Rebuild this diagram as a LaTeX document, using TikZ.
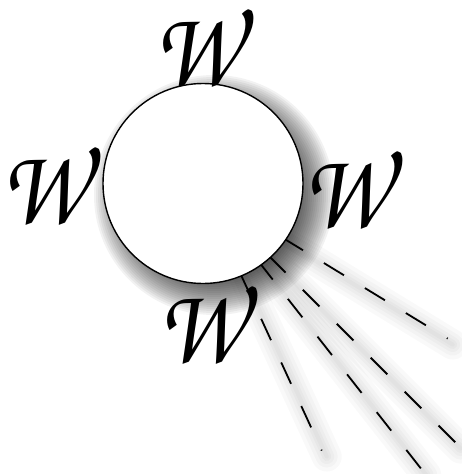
\documentclass[tikz,border=0pt]{standalone}
\usepackage{graphicx}
\usetikzlibrary{calc}
\newcommand\wfont{\fontencoding{OT1}\fontfamily{pzc}\fontseries{m}\fontshape{it}\fontsize{100}{100}\selectfont}
\newcommand\wglyph{\scalebox{0.97}[1.12]{W}}
\begin{document}
\begin{tikzpicture}[x=1pt,y=-1pt,
  dashline/.style={line width=1.8pt, dash pattern=on 23.5pt off 24.5pt},
  bandshadow/.style={black, opacity=0.022, line cap=round},
  ring/.style={draw, line width=1.4pt, fill=white},
  wlabel/.style={inner sep=0pt, font=\wfont}]
\useasboundingbox (0,0) rectangle (461,474);
\coordinate (C) at (203,183.5);
\coordinate (S) at (214,195);
\coordinate (O) at (201,188);
\coordinate (O3) at (199,185.5);
\coordinate (E1) at ($(O)+(31.4:289)$);
\coordinate (E2) at ($(O)+(45:360)$);
\coordinate (E3) at ($(O3)+(51.9:360)$);
\coordinate (E4) at ($(O)+(65.3:289)$);
% soft shadows of the dashed lines
\foreach \e/\o in {E1/O,E2/O,E3/O3,E4/O}{
  \foreach \w in {30,22,15,9,4}{
    \draw[bandshadow, line width=\w pt] ($(\o)+(5,6)$) -- ($(\e)+(5,6)$);
  }
}
% soft shadow of the circle
\foreach \r in {120,118,...,84}{
  \fill[black, opacity=0.05] (S) circle (\r pt);
}
% dashed lines
\draw[dashline] (O) -- (E1);
\draw[dashline] (O) -- (E2);
\draw[dashline] (O3) -- (E3);
\draw[dashline] (O) -- (E4);
% blob
\node[ring, circle, minimum size=200pt, inner sep=0pt] (blob) at (C) {};
% labels
\node[wlabel] (wt) at (196,45.5) {\wglyph};
\node[wlabel] (wl) at (43,184) {\wglyph};
\node[wlabel] (wr) at (345,188) {\wglyph};
\node[wlabel] (wb) at (200,323) {\wglyph};
\end{tikzpicture}
\end{document}
